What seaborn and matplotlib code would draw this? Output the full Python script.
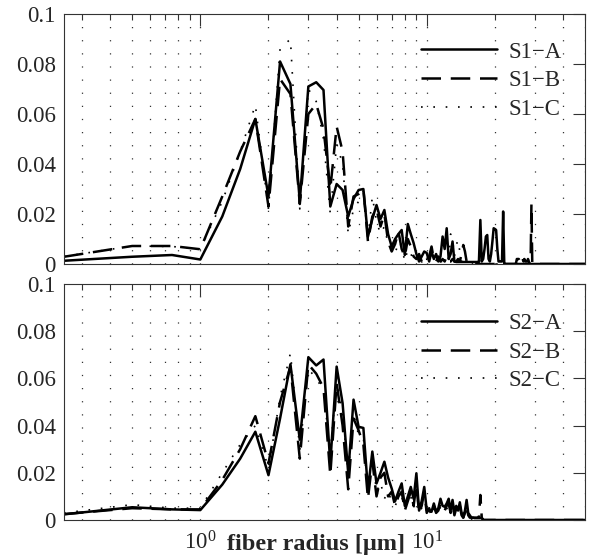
import numpy as np
import pandas as pd
import matplotlib
matplotlib.use("Agg")
import matplotlib.pyplot as plt
import matplotlib.ticker as mticker
import seaborn as sns

# ---------------- data ----------------
radius = [0.25, 0.5, 0.75, 1.0, 1.25, 1.5, 1.75, 2.0, 2.25, 2.5,
          2.75, 3.0, 3.25, 3.5, 3.75, 4.0, 4.25, 4.5, 4.75, 5.0,
          5.25, 5.5, 5.75, 6.0, 6.25, 6.5, 6.75, 7.0, 7.25, 7.5,
          7.75, 8.0, 8.25, 8.5, 8.75, 9.0, 9.25, 9.5, 9.75, 10.0,
          10.25, 10.5, 10.75, 11.0, 11.25, 11.5, 11.75, 12.0, 12.25, 12.5,
          12.75, 13.0, 13.25, 13.5, 13.75, 14.0, 14.25, 14.5, 14.75, 15.0,
          15.25, 15.5, 15.75, 16.0, 16.25, 16.5, 16.75, 17.0, 17.25, 17.5,
          17.75, 18.0, 18.25, 18.5, 18.75, 19.0, 19.25, 19.5, 19.75, 20.0,
          20.25, 20.5, 20.75, 21.0, 21.25, 21.5, 21.75, 22.0, 22.25, 22.5,
          22.75, 23.0, 23.25, 23.5, 23.75, 24.0, 24.25, 24.5, 24.75, 25.0,
          25.25, 25.5, 25.75, 26.0, 26.25, 26.5, 26.75, 27.0, 27.25, 27.5,
          27.75, 28.0, 28.25, 28.5, 28.75, 29.0, 29.25, 29.5, 29.75, 30.0,
          50.0]

s1_a = [0.0013, 0.0029, 0.0036, 0.0018, 0.019, 0.038, 0.058, 0.027, 0.081, 0.072,
        0.025, 0.071, 0.0727, 0.0696, 0.023, 0.032, 0.0296, 0.019, 0.026, 0.0296,
        0.030, 0.011, 0.018, 0.0236, 0.018, 0.0216, 0.012, 0.007, 0.010, 0.012,
        0.0136, 0.0036, 0.016, 0.012, 0.0084, 0.004, 0.001, 0.003, 0.005, 0.0044,
        0.001, 0.005, 0.002, 0.004, 0.001, 0.003, 0.011, 0.006, 0.0143, 0.002,
        0.004, 0.009, 0.001, 0.0008, 0.0008, 0.0008, 0.0008, 0.0008, 0.0008, 0.0008,
        0.0008, 0.0008, 0.0008, 0.0008, 0.0008, 0.0008, 0.0008, 0.0008, 0.0176, 0.001,
        0.002, 0.006, 0.011, 0.0116, 0.002, 0.001, 0.004, 0.009, 0.0143, 0.014,
        0.0136, 0.006, 0.001, 0.001, 0.001, 0.001, 0.021, 0.0, 0.0, 0.0,
        0.0, 0.0, 0.0, 0.0, 0.0, 0.0, 0.0, 0.0, 0.0, 0.0,
        0.0, 0.0, 0.0, 0.0, 0.0, 0.0, 0.0, 0.0, 0.0, 0.0,
        0.0, 0.0, 0.0, 0.0, 0.0, 0.0, 0.0, 0.0, 0.0, 0.0,
        0.0]
s1_b = [0.0029, 0.0072, 0.0072, 0.0059, 0.027, 0.045, 0.058, 0.023, 0.074, 0.068,
        0.024, 0.060, 0.064, 0.054, 0.030, 0.055, 0.045, 0.015, 0.027, 0.028,
        0.030, 0.009, 0.019, 0.022, 0.015, 0.020, 0.009, 0.005, 0.008, 0.013,
        0.006, 0.003, 0.010, 0.007, 0.003, 0.002, 0.004, 0.001, 0.003, 0.002,
        0.003, 0.007, 0.002, 0.001, 0.003, 0.001, 0.002, 0.001, 0.003, 0.001,
        0.001, 0.002, 0.001, 0.001, 0.002, 0.001, 0.004, 0.0076, 0.005, 0.001,
        0.001, 0.0, 0.0, 0.0, 0.0, 0.0, 0.0, 0.0, 0.0, 0.0,
        0.0, 0.0, 0.0, 0.0, 0.0, 0.0, 0.0, 0.0, 0.0, 0.0,
        0.0, 0.0, 0.0, 0.0, 0.0, 0.0, 0.0, 0.0, 0.0, 0.0,
        0.0, 0.0, 0.0, 0.0, 0.0, 0.0, 0.0, 0.0, 0.0, 0.002,
        0.002, 0.002, 0.001, 0.002, 0.001, 0.002, 0.001, 0.002, 0.001, 0.001,
        0.001, 0.002, 0.001, 0.0, 0.0, 0.024, 0.0, 0.0, 0.0, 0.0,
        0.0]
s1_c = [0.003, 0.0072, 0.007, 0.006, 0.025, 0.045, 0.0636, 0.022, 0.086, 0.090,
        0.022, 0.070, 0.065, 0.050, 0.020, 0.048, 0.040, 0.012, 0.022, 0.025,
        0.029, 0.010, 0.027, 0.017, 0.012, 0.015, 0.008, 0.007, 0.004, 0.009,
        0.007, 0.001, 0.006, 0.004, 0.002, 0.001, 0.003, 0.002, 0.001, 0.002,
        0.001, 0.006, 0.003, 0.001, 0.002, 0.001, 0.001, 0.002, 0.001, 0.001,
        0.012, 0.010, 0.003, 0.0076, 0.0096, 0.005, 0.001, 0.001, 0.001, 0.001,
        0.001, 0.001, 0.0, 0.0, 0.0, 0.0, 0.0, 0.0, 0.0, 0.0,
        0.0, 0.0, 0.0, 0.0, 0.0, 0.0, 0.0, 0.0, 0.0, 0.0,
        0.0, 0.0, 0.0, 0.0, 0.0, 0.0, 0.0, 0.0, 0.0, 0.0,
        0.0, 0.0, 0.0, 0.0, 0.0, 0.0, 0.0, 0.0, 0.0, 0.0,
        0.0, 0.0, 0.0, 0.0, 0.0, 0.0, 0.0, 0.0, 0.0, 0.0,
        0.0, 0.0, 0.0, 0.0, 0.0, 0.0, 0.0, 0.0, 0.0, 0.0,
        0.0]

s2_a = [0.0024, 0.0054, 0.0045, 0.0042, 0.015, 0.026, 0.0374, 0.019, 0.043, 0.066,
        0.034, 0.069, 0.0655, 0.068, 0.024, 0.065, 0.0495, 0.0198, 0.051, 0.0395,
        0.039, 0.0127, 0.029, 0.0155, 0.020, 0.0247, 0.018, 0.0134, 0.008, 0.012,
        0.0155, 0.006, 0.010, 0.014, 0.009, 0.0198, 0.004, 0.008, 0.014, 0.004,
        0.004, 0.0035, 0.007, 0.0035, 0.005, 0.009, 0.006, 0.0056, 0.007, 0.009,
        0.004, 0.0085, 0.003, 0.006, 0.004, 0.0075, 0.003, 0.001, 0.004, 0.0085,
        0.003, 0.002, 0.001, 0.001, 0.0008, 0.0008, 0.0008, 0.0008, 0.0008, 0.0008,
        0.0, 0.0, 0.0, 0.0, 0.0, 0.0, 0.0, 0.0, 0.0, 0.0,
        0.0, 0.0, 0.0, 0.0, 0.0, 0.0, 0.0, 0.0, 0.0, 0.0,
        0.0, 0.0, 0.0, 0.0, 0.0, 0.0, 0.0, 0.0, 0.0, 0.0,
        0.0, 0.0, 0.0, 0.0, 0.0, 0.0, 0.0, 0.0, 0.0, 0.0,
        0.0, 0.0, 0.0, 0.0, 0.0, 0.0, 0.0, 0.0, 0.0, 0.0,
        0.0]
s2_b = [0.0025, 0.005, 0.0045, 0.0045, 0.017, 0.030, 0.044, 0.024, 0.050, 0.065,
        0.026, 0.066, 0.062, 0.056, 0.019, 0.058, 0.040, 0.013, 0.043, 0.038,
        0.032, 0.009, 0.025, 0.010, 0.018, 0.020, 0.010, 0.012, 0.006, 0.010,
        0.012, 0.004, 0.008, 0.012, 0.006, 0.015, 0.003, 0.006, 0.012, 0.003,
        0.005, 0.002, 0.006, 0.003, 0.004, 0.007, 0.005, 0.004, 0.006, 0.007,
        0.003, 0.007, 0.002, 0.005, 0.003, 0.006, 0.002, 0.001, 0.003, 0.006,
        0.002, 0.001, 0.001, 0.001, 0.001, 0.001, 0.001, 0.001, 0.0106, 0.001,
        0.0, 0.0, 0.0, 0.0, 0.0, 0.0, 0.0, 0.0, 0.0, 0.0,
        0.0, 0.0, 0.0, 0.0, 0.0, 0.0, 0.0, 0.0, 0.0, 0.0,
        0.0, 0.0, 0.0, 0.0, 0.0, 0.0, 0.0, 0.0, 0.0, 0.0,
        0.0, 0.0, 0.0, 0.0, 0.0, 0.0, 0.0, 0.0, 0.0, 0.0,
        0.0, 0.0, 0.0, 0.0, 0.0, 0.0, 0.0, 0.0, 0.0, 0.0,
        0.0]
s2_c = [0.003, 0.0065, 0.005, 0.005, 0.020, 0.032, 0.040, 0.022, 0.052, 0.0707,
        0.030, 0.064, 0.060, 0.055, 0.028, 0.060, 0.045, 0.020, 0.045, 0.036,
        0.035, 0.010, 0.027, 0.012, 0.016, 0.009, 0.012, 0.008, 0.006, 0.009,
        0.010, 0.005, 0.007, 0.010, 0.005, 0.012, 0.004, 0.005, 0.010, 0.004,
        0.004, 0.003, 0.005, 0.004, 0.006, 0.005, 0.004, 0.006, 0.005, 0.004,
        0.005, 0.004, 0.006, 0.003, 0.004, 0.005, 0.002, 0.003, 0.002, 0.001,
        0.001, 0.001, 0.0, 0.0, 0.0, 0.0, 0.0, 0.0, 0.0, 0.0,
        0.0, 0.0, 0.0, 0.0, 0.0, 0.0, 0.0, 0.0, 0.0, 0.0,
        0.0, 0.0, 0.0, 0.0, 0.0, 0.0, 0.0, 0.0, 0.0, 0.0,
        0.0, 0.0, 0.0, 0.0, 0.0, 0.0, 0.0, 0.0, 0.0, 0.0,
        0.0, 0.0, 0.0, 0.0, 0.0, 0.0, 0.0, 0.0, 0.0, 0.0,
        0.0, 0.0, 0.0, 0.0, 0.0, 0.0, 0.0, 0.0, 0.0, 0.0,
        0.0]

panel_series = [["S1\u2212A", "S1\u2212B", "S1\u2212C"],
                ["S2\u2212A", "S2\u2212B", "S2\u2212C"]]
panel_values = [[s1_a, s1_b, s1_c], [s2_a, s2_b, s2_c]]
ytick_values = [0, 0.02, 0.04, 0.06, 0.08, 0.1]
ytick_labels = ["0", "0.02", "0.04", "0.06", "0.08", "0.1"]
xlabel = "fiber radius [\u03bcm]"

# ---------------- styling ----------------
sns.set_style("white")
plt.rcParams["font.family"] = ["Liberation Serif", "DejaVu Serif"]
plt.rcParams["font.size"] = 16.5
plt.rcParams["mathtext.fontset"] = "custom"
plt.rcParams["mathtext.rm"] = "Liberation Serif"
plt.rcParams["mathtext.it"] = "Liberation Serif:italic"
plt.rcParams["mathtext.bf"] = "Liberation Serif:bold"

line_styles = [dict(linestyle="-", linewidth=1.8),
               dict(linestyle=(0, (7.8, 3.9)), linewidth=1.8),
               dict(linestyle=(0, (1, 6.4)), linewidth=1.2)]

fig = plt.figure(figsize=(5.89, 5.56), dpi=100)
W, H = 589.0, 556.0
ax_top = fig.add_axes([64 / W, 1 - 264 / H, 521 / W, 250 / H])
ax_bot = fig.add_axes([64 / W, 1 - 520 / H, 521 / W, 236 / H])
legend_anchor = [(0.977, 0.936), (0.977, 0.926)]

for ax, names, vals, anchor in zip([ax_top, ax_bot], panel_series,
                                   panel_values, legend_anchor):
    rows = []
    for name, v in zip(names, vals):
        assert len(v) == len(radius)
        rows.append(pd.DataFrame({"radius": radius, "density": v, "series": name}))
    df = pd.concat(rows, ignore_index=True)
    for name, st in zip(names, line_styles):
        sns.lineplot(data=df[df["series"] == name], x="radius", y="density",
                     color="black", label=name, ax=ax, estimator=None,
                     **st)
    ax.set_xscale("log")
    ax.set_xlim(0.25, 50)
    ax.set_ylim(0, 0.1)
    ax.set_yticks(ytick_values)
    ax.set_yticklabels(ytick_labels)
    ax.yaxis.set_minor_locator(mticker.NullLocator())
    ax.xaxis.set_major_locator(mticker.LogLocator(base=10))
    ax.xaxis.set_minor_locator(mticker.LogLocator(base=10, subs=np.arange(2, 10)))
    ax.xaxis.set_minor_formatter(mticker.NullFormatter())
    ax.set_ylabel("")
    ax.set_xlabel("")
    ax.set_axisbelow(True)
    ax.grid(True, axis="x", which="both", linestyle=(0, (1, 9.5)),
            linewidth=0.9, color="#333333")
    ax.grid(False, axis="y")
    ax.tick_params(which="both", direction="in", top=True, right=True,
                   width=0.8, color="#333333")
    ax.tick_params(which="major", length=8.6)
    ax.tick_params(axis="x", which="minor", length=4.3)
    ax.tick_params(axis="y", pad=6, labelsize=16.5)
    ax.tick_params(axis="x", pad=8, labelsize=16.5)
    for sp in ax.spines.values():
        sp.set_linewidth(0.8)
        sp.set_color("#333333")
    ax.legend(loc="upper right", bbox_to_anchor=anchor, frameon=False,
              borderpad=0, handlelength=3.3, handletextpad=0.5,
              labelspacing=0.33, fontsize=16.5)

ax_top.tick_params(axis="x", labelbottom=False)
ax_bot.set_xlabel(xlabel, fontweight="bold", fontsize=17.5)
ax_bot.xaxis.set_label_coords(0.484, -0.058)

fig.savefig("out.png", dpi=100)
